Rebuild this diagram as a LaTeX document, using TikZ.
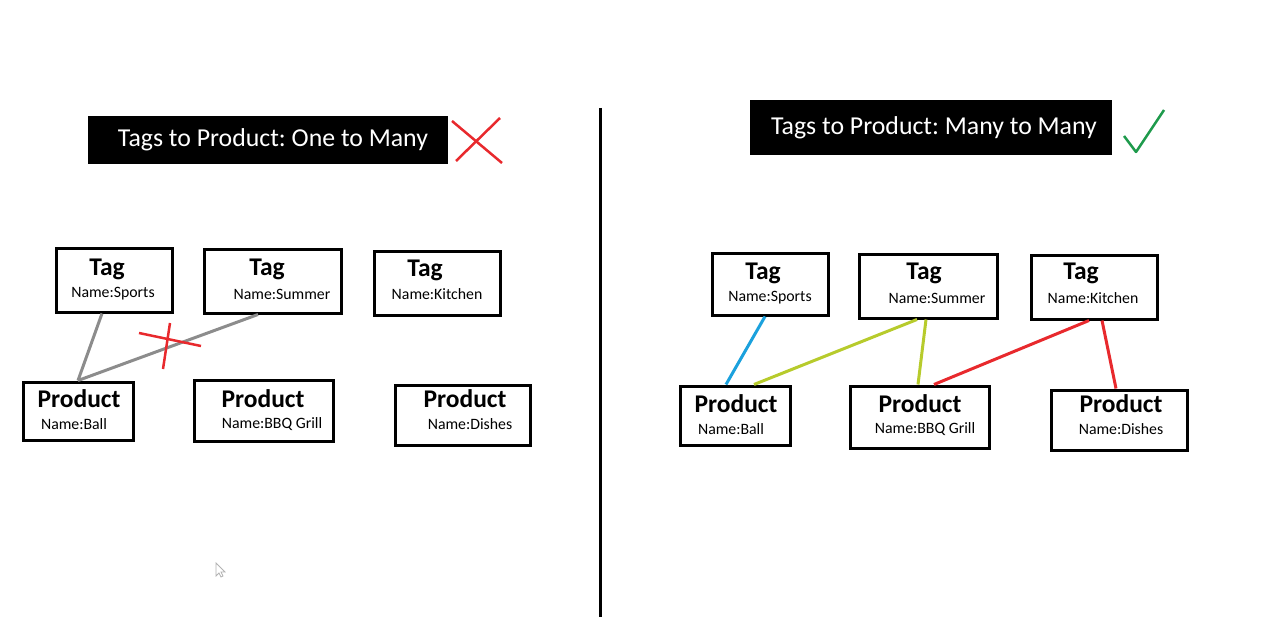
\documentclass[tikz,border=0pt]{standalone}
\usepackage{fontspec}
\setmainfont{Carlito}
\usetikzlibrary{calc}
\frenchspacing
\definecolor{lgray}{HTML}{8C8C8C}
\definecolor{lblue}{HTML}{1BA1DD}
\definecolor{lyg}{HTML}{B7CB2C}
\definecolor{lred}{HTML}{E8292D}
\definecolor{lgreen}{HTML}{1E9A4C}
\tikzset{
  ebox/.style={draw=black, line width=3pt, inner sep=0pt, fill=white},
  head/.style={font=\fontsize{25.5}{27}\selectfont\bfseries, inner sep=0pt},
  sub/.style={font=\fontsize{15.8}{17}\selectfont, inner sep=0pt},
  title/.style={fill=black, text=white, inner sep=0pt, font=\fontsize{25.8}{28}\selectfont},
  link/.style={line width=3pt},
}
\begin{document}
\begin{tikzpicture}[x=1pt,y=-1pt]
\useasboundingbox (0,0) rectangle (1268,644);
% divider
\coordinate (dt) at (600,108);
\coordinate (db) at (600,617);
\draw[line width=3pt] (dt) -- (db);

% ---------- left ----------
\node[title, minimum width=360pt, minimum height=48pt] (lt) at (268,140) {\hspace*{10pt}Tags to Product: One to Many};
\draw[lred, line width=2.5pt] (452,121) -- (502,163);
\draw[lred, line width=2.5pt] (456,161) -- (500,118);

\node[ebox, minimum width=116pt, minimum height=63pt] (lts) at (114,280.5) {};
\node[ebox, minimum width=137pt, minimum height=63pt] (lsu) at (272.5,281.5) {};
\node[ebox, minimum width=126pt, minimum height=63pt] (lki) at (437,283.5) {};
\node[ebox, minimum width=110pt, minimum height=58pt] (lpb) at (78,411) {};
\node[ebox, minimum width=139pt, minimum height=61pt] (lpq) at (263.5,410.5) {};
\node[ebox, minimum width=135pt, minimum height=60pt] (lpd) at (462.5,415) {};

\node[head] (ltsh) at (107,269) {Tag};
\node[sub]  (ltsn) at (113,294) {Name:Sports};
\node[head] (lsuh) at (267,269) {Tag};
\node[sub]  (lsun) at (282,294) {Name:Summer};
\node[head] (lkih) at (425,270) {Tag};
\node[sub]  (lkin) at (437,294) {Name:Kitchen};
\node[head] (lpbh) at (79,399) {Product};
\node[sub]  (lpbn) at (74,424) {Name:Ball};
\node[head] (lpqh) at (263,399) {Product};
\node[sub]  (lpqn) at (272,424) {Name:BBQ Grill};
\node[head] (lpdh) at (465,399) {Product};
\node[sub]  (lpdn) at (470,424) {Name:Dishes};

\draw[link, lgray] ([xshift=-12pt]lts.south) -- (lpb.north);
\draw[link, lgray] ([xshift=-14.5pt]lsu.south) -- (lpb.north);
\draw[lred, line width=2.5pt] (139,333) -- (201,346);
\draw[lred, line width=2.5pt] (170,323) -- (163,369);

% ---------- right ----------
\node[title, minimum width=362pt, minimum height=55pt] (rt) at (931,127.5) {\hspace*{6pt}Tags to Product: Many to Many};
\draw[lgreen, line width=2.5pt, line join=round] (1124,136) -- (1136,152) -- (1164,110);

\node[ebox, minimum width=116pt, minimum height=61pt] (rts) at (770,284.5) {};
\node[ebox, minimum width=138pt, minimum height=63pt] (rsu) at (928,286.5) {};
\node[ebox, minimum width=126pt, minimum height=63pt] (rki) at (1094,287.5) {};
\node[ebox, minimum width=110pt, minimum height=59pt] (rpb) at (735,415.5) {};
\node[ebox, minimum width=139pt, minimum height=62pt] (rpq) at (919.5,417) {};
\node[ebox, minimum width=136pt, minimum height=60pt] (rpd) at (1119,420) {};

\node[head] (rtsh) at (763,273) {Tag};
\node[sub]  (rtsn) at (770,298) {Name:Sports};
\node[head] (rsuh) at (924,273) {Tag};
\node[sub]  (rsun) at (937,298) {Name:Summer};
\node[head] (rkih) at (1081,273) {Tag};
\node[sub]  (rkin) at (1093,298) {Name:Kitchen};
\node[head] (rpbh) at (736,404) {Product};
\node[sub]  (rpbn) at (731,429) {Name:Ball};
\node[head] (rpqh) at (920,404) {Product};
\node[sub]  (rpqn) at (925,429) {Name:BBQ Grill};
\node[head] (rpdh) at (1121,404) {Product};
\node[sub]  (rpdn) at (1121,429) {Name:Dishes};

\draw[link, lblue] ([xshift=-5pt]rts.south) -- ([xshift=-9pt]rpb.north);
\draw[link, lyg] ([xshift=-11pt]rsu.south) -- ([xshift=19pt]rpb.north);
\draw[link, lyg] ([xshift=-2pt]rsu.south) -- ([xshift=-1.5pt]rpq.north);
\draw[link, lred] ([xshift=-5pt]rki.south) -- ([xshift=14.5pt]rpq.north);
\draw[link, lred] ([xshift=8pt]rki.south) -- ([xshift=-3pt]rpd.north);

% mouse cursor
\draw[gray!60, line width=0.8pt, fill=white] (216,563) -- (216,576) -- (219,573) -- (221,577) -- (223,576) -- (221,572) -- (225,572) -- cycle;
\end{tikzpicture}
\end{document}
